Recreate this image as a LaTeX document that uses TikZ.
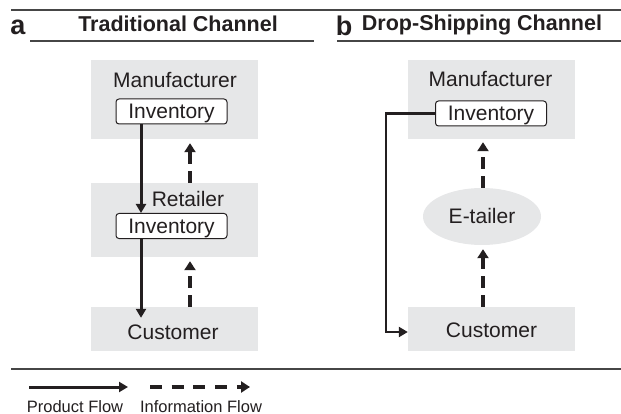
\documentclass[tikz,border=0pt]{standalone}
\usepackage{fontspec}
\setmainfont{Liberation Sans}
\usetikzlibrary{arrows.meta,shapes.geometric}
\definecolor{panelgray}{RGB}{230,231,232}
\definecolor{ink}{RGB}{35,31,32}
\definecolor{rulegray}{RGB}{70,70,70}
\begin{document}
\begin{tikzpicture}[x=1pt,y=-1pt,
  every node/.style={text=ink},
  stage/.style={fill=panelgray,draw=none,minimum width=167pt,minimum height=#1,inner sep=0pt},
  stage/.default=78pt,
  label/.style={font=\fontsize{21}{24}\selectfont,anchor=base,inner sep=0pt},
  stock/.style={draw=ink,line width=1pt,rounded corners=3pt,fill=white,minimum width=111pt,minimum height=25pt,inner sep=0pt},
  heading/.style={font=\fontsize{21.5}{24}\selectfont\bfseries,anchor=base,inner sep=0pt},
  letter/.style={font=\fontsize{27}{30}\selectfont\bfseries,anchor=base,inner sep=0pt},
  legendtext/.style={font=\fontsize{16.5}{19}\selectfont,anchor=base,inner sep=0pt},
  rule/.style={draw=rulegray,line width=1.3pt},
  product/.style={draw=ink,line width=3pt,-{Triangle[length=9pt,width=10pt]}},
  info/.style={draw=ink,line width=3.6pt,dash pattern=on 12pt off 7pt,-{Triangle[length=9pt,width=11pt]}}
]
\useasboundingbox (0,0) rectangle (621,414);

% rules and headings
\draw[rule] (11,10) -- (621,10);
\draw[rule] (30,41) -- (314,41);
\draw[rule] (337,41) -- (621,41);
\draw[rule] (11,369) -- (621,369);
\node[letter] (la) at (18,35) {a};
\node[heading] (ta) at (178,32) {Traditional Channel};
\node[letter] (lb) at (344,36) {b};
\node[heading] (tb) at (482,31) {Drop-Shipping Channel};

% traditional channel
\node[stage=79pt] (manA) at (174.5,99.5) {};
\node[label] (manAt) at (175,88) {Manufacturer};
\node[stock] (invA1) at (171.5,111.5) {};
\node[label] (invA1t) at (171.5,119) {Inventory};
\node[stage=74pt] (retA) at (174.5,220) {};
\node[label] (retAt) at (188,207) {Retailer};
\node[stock] (invA2) at (171.5,226) {};
\node[label] (invA2t) at (171.5,233.5) {Inventory};
\node[stage=44pt] (custA) at (174.5,329) {};
\node[label] (custAt) at (173,339) {Customer};

\coordinate (colA) at (141,0);
\coordinate (dashA) at (190,0);
\draw[product] (invA1.south -| colA) -- (invA2.north -| colA);
\draw[product,shorten >=-11pt] (invA2.south -| colA) -- (custA.north -| colA);
\draw[info,shorten >=4pt] (retA.north -| dashA) -- (manA.south -| dashA);
\draw[info,shorten >=4pt] (custA.north -| dashA) -- (retA.south -| dashA);

% drop-shipping channel
\node[stage=79pt] (manB) at (491.5,99.5) {};
\node[label] (manBt) at (490.5,87) {Manufacturer};
\node[stock] (invB) at (491,113.5) {};
\node[label] (invBt) at (491,121) {Inventory};
\node[ellipse,fill=panelgray,minimum width=118pt,minimum height=57pt,inner sep=0pt] (etail) at (482,216.5) {};
\node[label] (etailt) at (482,223) {E-tailer};
\node[stage=44pt] (custB) at (491.5,329) {};
\node[label] (custBt) at (491.5,337) {Customer};

\coordinate (rail) at (386,0);
\coordinate (dashB) at (483,0);
\draw[product,line width=2.4pt] (invB.west) -- (invB.west -| rail) -- ([yshift=-3pt]custB.west -| rail) -- ([yshift=-3pt]custB.west);
\draw[info,shorten >=3pt] (etail.north -| dashB) -- (manB.south -| dashB);
\draw[info,shorten >=4pt] (custB.north -| dashB) -- (etail.south -| dashB);

% legend
\coordinate (pf0) at (29,387);
\coordinate (pf1) at (128,387);
\coordinate (if0) at (150,387);
\coordinate (if1) at (250,387);
\draw[product] (pf0) -- (pf1);
\draw[info,line width=3.3pt,dash pattern=on 12pt off 9.7pt] (if0) -- (if1);
\node[legendtext] (pft) at (75,412) {Product Flow};
\node[legendtext] (ift) at (201,412) {Information Flow};
\end{tikzpicture}
\end{document}
